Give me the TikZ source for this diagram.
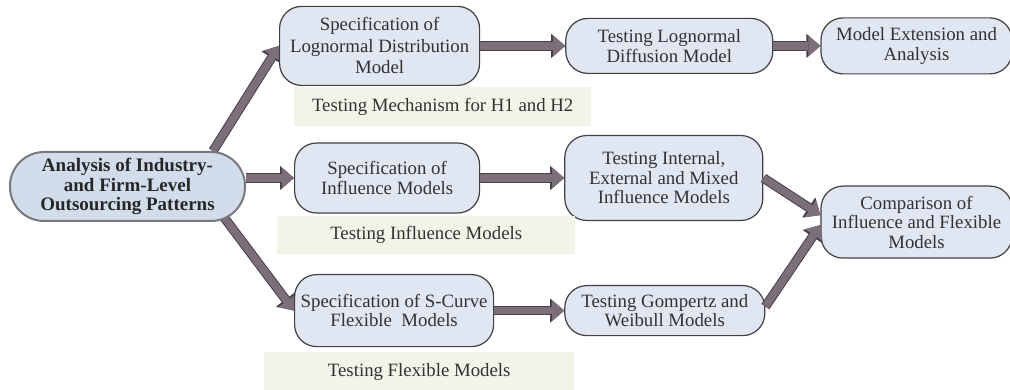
\documentclass[tikz,border=0pt]{standalone}
\usepackage{fontspec}
\setmainfont{Liberation Serif}
\usepackage{tikz}
\usetikzlibrary{shapes,arrows.meta,positioning,backgrounds}
\definecolor{boxfill}{RGB}{224, 231, 242}
\definecolor{boxedge}{RGB}{64, 64, 64}
\definecolor{startfill}{RGB}{210, 221, 236}
\definecolor{startedge}{RGB}{120, 120, 125}
\definecolor{capfill}{RGB}{243, 243, 234}
\definecolor{inkgray}{RGB}{50, 50, 50}
\definecolor{flowfill}{RGB}{124, 111, 122}
\definecolor{flowedge}{RGB}{72, 64, 72}
\newcommand{\stagefont}{\fontsize{18.8}{19.5}\selectfont}
\tikzstyle{stage} = [rectangle, rounded corners=22pt, draw=boxedge, line width=1.2pt, fill=boxfill, text=inkgray, align=center, font=\stagefont, inner sep=2pt]
\tikzstyle{origin} = [rectangle, rounded corners=34pt, draw=startedge, line width=2pt, fill=startfill, text=black!85, align=center, font=\fontsize{19}{19.5}\selectfont\bfseries, inner sep=1pt]
\tikzstyle{caption} = [rectangle, draw=none, fill=capfill, text=inkgray, align=center, font=\stagefont, inner sep=0pt]
\tikzstyle{flow} = [draw=flowfill, line width=7.5pt, -{Triangle[width=21pt,length=12pt,line width=0pt]}, preaction={draw=flowedge, line width=9.5pt, -{Triangle[width=24pt,length=14pt,line width=0pt]}}]

\begin{document}
\begin{tikzpicture}[x=1pt, y=1pt]
\useasboundingbox (0,0) rectangle (1010,-390);

% stages =============================
\node[origin, minimum width=235pt, minimum height=69pt] (ana) at (127.5,-186.5) {Analysis of Industry-\\and Firm-Level\\Outsourcing Patterns};

\node[stage, minimum width=200pt, minimum height=79pt, font=\fontsize{18.8}{21.5}\selectfont, above right=65pt and 33pt of ana] (lgn) {Specification of\\Lognormal Distribution\\Model};
\node[stage, minimum width=207pt, minimum height=55pt, right=85pt of lgn] (tlgn) {Testing Lognormal\\Diffusion Model};
\node[stage, minimum width=191pt, minimum height=56pt, right=47pt of tlgn] (ext) {Model Extension and\\Analysis};

\node[stage, minimum width=185pt, minimum height=70pt, right=48pt of ana, yshift=8.5pt] (inf) {Specification of\\Influence Models};
\node[stage, minimum width=198pt, minimum height=85pt, right=84pt of inf] (int) {Testing Internal,\\External and Mixed\\Influence Models};
\node[stage, minimum width=191pt, minimum height=72pt, below right=7.5pt and 57pt of int.east] (comp) {Comparison of\\Influence and Flexible\\Models};

\node[stage, minimum width=199pt, minimum height=72pt, below right=52pt and 48pt of ana] (scur) {Specification of S-Curve\\Flexible\ \ Models};
\node[stage, minimum width=200pt, minimum height=50pt, right=70pt of scur] (gomp) {Testing Gompertz and\\Weibull Models};

% captions
\node[caption, minimum width=297pt, minimum height=39pt, below right=1pt and 15pt of lgn.south west] (cap1) {Testing Mechanism for H1 and H2};
\node[caption, minimum width=298pt, minimum height=38pt, below right=2pt and -17pt of inf.south west] (cap2) {Testing Influence Models};
\node[caption, minimum width=310pt, minimum height=40pt, below right=5pt and -30pt of scur.south west] (cap3) {Testing Flexible Models};

% edges
\begin{scope}[on background layer]
\draw[flow] ([xshift=-33pt]ana.north east) -- (lgn.west);
\draw[flow] (ana.east |- inf.west) -- (inf.west);
\draw[flow] ([xshift=-23pt,yshift=6pt]ana.south east) -- (scur.west);
\end{scope}
\draw[flow] (lgn.east) -- (lgn.east -| tlgn.west);
\draw[flow] (tlgn.east) -- (tlgn.east -| ext.west);
\draw[flow] (inf.east) -- (inf.east -| int.west);
\draw[flow] (scur.east) -- (scur.east -| gomp.west);
\draw[flow] ([yshift=4pt]gomp.east) -- ([yshift=-3pt]comp.west);
\draw[flow] (int.east) -- ([yshift=7pt]comp.west);

\end{tikzpicture}
\end{document}
